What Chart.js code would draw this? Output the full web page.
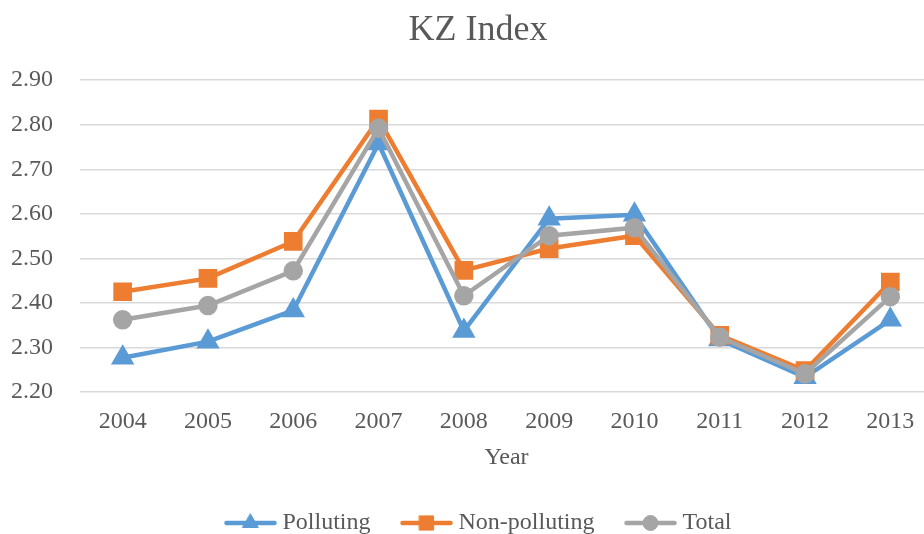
<!DOCTYPE html>
<html>
<head>
<meta charset="utf-8">
<script src="https://cdn.jsdelivr.net/npm/chart.js@4.4.1/dist/chart.umd.min.js"></script>
<style>
  html, body { margin: 0; padding: 0; background: #fff; overflow: hidden; }
  #wrap { width: 924px; height: 534px; overflow: hidden; position: relative; }
  canvas { display: block; }
</style>
</head>
<body>
<div id="wrap"><canvas id="kz" width="956" height="545"></canvas></div>
<script>
const years = ['2004', '2005', '2006', '2007', '2008', '2009', '2010', '2011', '2012', '2013'];
const polluting = [2.277, 2.313, 2.383, 2.758, 2.337, 2.589, 2.598, 2.318, 2.233, 2.362];
const nonPolluting = [2.425, 2.455, 2.538, 2.813, 2.473, 2.522, 2.551, 2.327, 2.248, 2.447];
const total = [2.362, 2.394, 2.472, 2.792, 2.416, 2.551, 2.569, 2.323, 2.241, 2.414];

const textColor = '#595959';
const serif = "'Liberation Serif', 'Times New Roman', serif";

// legend drawn by hand: line with marker in the middle, like Excel
const lineLegend = {
    id: 'lineLegend',
    afterDraw(chart) {
        const ctx = chart.ctx;
        const items = chart.data.datasets.map(ds => ({
            text: ds.label, color: ds.borderColor, style: ds.pointStyle, r: ds.pointRadius
        }));
        ctx.save();
        ctx.font = '24px ' + serif;
        const lineLen = 52, gap = 6, spacing = 30;
        let totalW = 0;
        items.forEach((it, i) => {
            it.w = ctx.measureText(it.text).width;
            totalW += lineLen + gap + it.w + (i ? spacing : 0);
        });
        let x = chart.width / 2 - totalW / 2;
        const y = 523;
        items.forEach(it => {
            ctx.strokeStyle = it.color;
            ctx.lineWidth = 4.5;
            ctx.lineCap = 'round';
            ctx.beginPath();
            ctx.moveTo(x + 2, y);
            ctx.lineTo(x + lineLen - 2, y);
            ctx.stroke();
            ctx.fillStyle = it.color;
            ctx.lineWidth = 1;
            Chart.helpers.drawPoint(ctx, { pointStyle: it.style, radius: it.r, borderWidth: 1 }, x + lineLen / 2, y);
            ctx.fillStyle = textColor;
            ctx.textBaseline = 'middle';
            ctx.textAlign = 'left';
            ctx.fillText(it.text, x + lineLen + gap, y);
            x += lineLen + gap + it.w + spacing;
        });
        ctx.restore();
    }
};

function series(label, data, color, style, radius, order) {
    return {
        label: label,
        data: data,
        borderColor: color,
        backgroundColor: color,
        pointBackgroundColor: color,
        pointBorderColor: color,
        pointStyle: style,
        pointRadius: radius,
        pointHoverRadius: radius,
        borderWidth: 4.5,
        tension: 0,
        order: order
    };
}

new Chart(document.getElementById('kz'), {
    type: 'line',
    data: {
        labels: years,
        datasets: [
            series('Polluting', polluting, '#5B9BD5', 'triangle', 9, 2),
            series('Non-polluting', nonPolluting, '#ED7D31', 'rect', 10, 1),
            series('Total', total, '#A5A5A5', 'circle', 7.5, 0)
        ]
    },
    options: {
        responsive: false,
        animation: false,
        layout: { padding: { bottom: 53 } },
        plugins: {
            legend: { display: false },
            tooltip: { enabled: false },
            title: {
                display: true,
                text: 'KZ Index',
                color: textColor,
                font: { family: serif, size: 36, weight: 'normal' },
                padding: { top: 9, bottom: 28 }
            }
        },
        scales: {
            x: {
                offset: true,
                grid: { display: false, drawTicks: false },
                border: { display: false },
                ticks: { color: textColor, font: { family: serif, size: 24 }, padding: 15, maxRotation: 0 },
                title: {
                    display: true,
                    text: 'Year',
                    color: textColor,
                    font: { family: serif, size: 24 },
                    padding: { top: 0, bottom: 20 }
                },
                afterFit: s => { s.height = 100; }
            },
            y: {
                min: 2.2,
                max: 2.9,
                grid: { color: '#D9D9D9', lineWidth: 1.5, drawTicks: false },
                border: { display: false },
                ticks: {
                    stepSize: 0.1,
                    color: textColor,
                    font: { family: serif, size: 24 },
                    padding: 27,
                    callback: v => Number(v).toFixed(2)
                },
                afterFit: s => { s.width = 80; }
            },
            // empty right axis, only keeps room on the right of the plot
            yRight: {
                position: 'right',
                display: true,
                grid: { display: false, drawTicks: false },
                border: { display: false },
                ticks: { display: false },
                afterFit: s => { s.width = 23; }
            }
        }
    },
    plugins: [lineLegend]
});
</script>
</body>
</html>
